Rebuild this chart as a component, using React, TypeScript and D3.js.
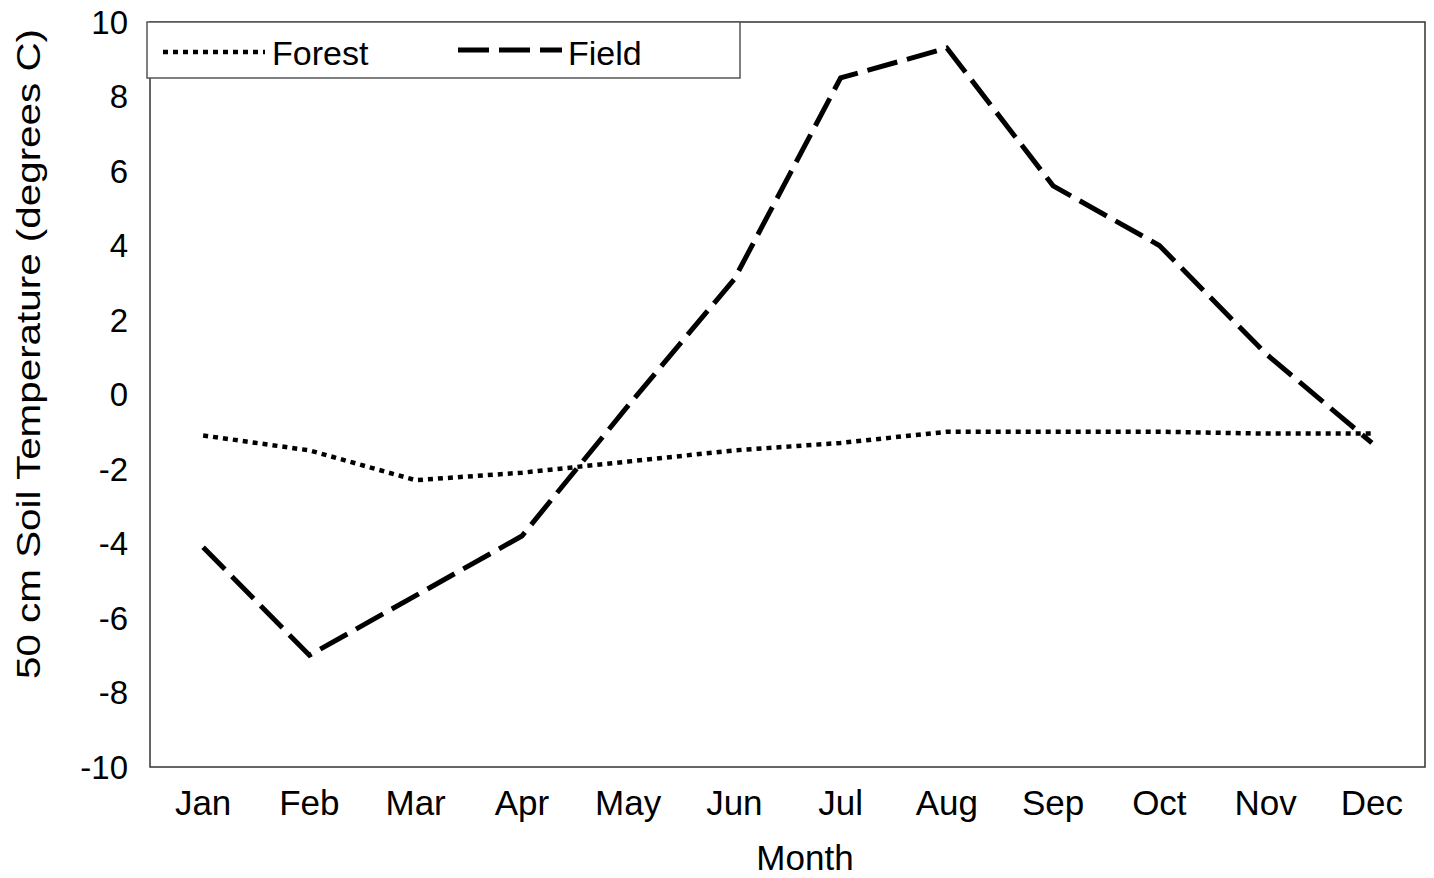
import React from "react";
import * as d3 from "d3";

const months = ["Jan", "Feb", "Mar", "Apr", "May", "Jun", "Jul", "Aug", "Sep", "Oct", "Nov", "Dec"];
const forest = [-1.1, -1.5, -2.3, -2.1, -1.8, -1.5, -1.3, -1.0, -1.0, -1.0, -1.05, -1.05];
const field = [-4.1, -7.0, -5.4, -3.8, -0.3, 3.1, 8.5, 9.3, 5.6, 4.0, 1.1, -1.3];
const yTicks = [10, 8, 6, 4, 2, 0, -2, -4, -6, -8, -10];

const W = 1434, H = 878;
const L = 150, R = 1425, T = 22, B = 767;
const FONT = "'Liberation Sans', Arial, sans-serif";

export default function App() {
  const x = d3.scaleBand<string>().domain(months).range([L, R]).padding(0);
  const y = d3.scaleLinear().domain([-10, 10]).range([B, T]);
  const cx = (m: string) => (x(m) as number) + x.bandwidth() / 2;
  const line = d3.line<number>().x((_, i) => cx(months[i])).y((v) => y(v)).curve(d3.curveLinear);

  return (
    <svg width={W} height={H} style={{ position: "absolute", left: 0, top: 0, background: "#fff" }} fontFamily={FONT}>
      <rect x={0} y={0} width={W} height={H} fill="#fff" />
      <rect x={L} y={T} width={R - L} height={B - T} fill="none" stroke="#333" strokeWidth={1.5} />
      {yTicks.map((t) => (
        <text key={t} x={128} y={y(t)} dy="0.36em" textAnchor="end" fontSize={33} fill="#000">
          {t}
        </text>
      ))}
      {months.map((m) => (
        <text key={m} x={cx(m)} y={815} textAnchor="middle" fontSize={35} fill="#000">
          {m}
        </text>
      ))}
      <text x={805} y={870} textAnchor="middle" fontSize={35} fill="#000">Month</text>
      <text
        transform={`translate(40, ${354}) rotate(-90)`}
        textAnchor="middle"
        fontSize={34}
        textLength={650}
        lengthAdjust="spacingAndGlyphs"
        fill="#000"
      >
        50 cm Soil Temperature (degrees C)
      </text>
      <path d={line(forest) || ""} fill="none" stroke="#000" strokeWidth={4.5} strokeDasharray="5,5" />
      <path d={line(field) || ""} fill="none" stroke="#000" strokeWidth={5} strokeDasharray="31,10" />
      <g>
        <rect x={147} y={22} width={593} height={56} fill="#fff" stroke="#555" strokeWidth={1.5} />
        <line x1={163} x2={265} y1={52} y2={52} stroke="#000" strokeWidth={4.5} strokeDasharray="5,5" />
        <text x={272} y={65} fontSize={34} fill="#000">Forest</text>
        <line x1={458} x2={562} y1={50} y2={50} stroke="#000" strokeWidth={5} strokeDasharray="31,10" />
        <text x={568} y={65} fontSize={34} fill="#000">Field</text>
      </g>
    </svg>
  );
}
